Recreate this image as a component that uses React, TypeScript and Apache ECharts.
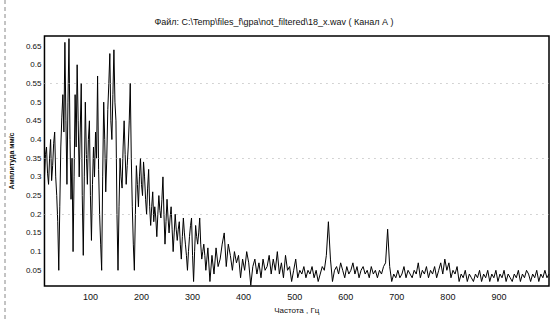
import React, { useEffect, useRef } from "react";
import * as echarts from "echarts";

const titleText = "Файл: C:\\Temp\\files_f\\gpa\\not_filtered\\18_x.wav ( Канал А )";
const xName = "Частота , Гц";
const yName = "Амплитуда мм/с";

// low band: 10..328 Hz, 2 Hz step
const lowBandStart = 10;
const lowBandStep = 2;
const lowBandValues: number[] = [
  0.30, 0.36, 0.38, 0.31, 0.28, 0.35, 0.40, 0.29, 0.33, 0.39, 0.42, 0.30, 0.25, 0.18, 0.05, 0.22, 0.38, 0.46, 0.52, 0.42,
  0.66, 0.45, 0.28, 0.50, 0.67, 0.40, 0.24, 0.35, 0.10, 0.30, 0.52, 0.38, 0.60, 0.45, 0.30, 0.42, 0.55, 0.25, 0.09, 0.30,
  0.50, 0.36, 0.28, 0.40, 0.45, 0.25, 0.13, 0.28, 0.38, 0.30, 0.42, 0.35, 0.57, 0.32, 0.20, 0.12, 0.05, 0.30, 0.50, 0.40,
  0.26, 0.35, 0.48, 0.55, 0.63, 0.45, 0.40, 0.52, 0.64, 0.50, 0.45, 0.20, 0.05, 0.22, 0.35, 0.30, 0.27, 0.38, 0.45, 0.36,
  0.28, 0.33, 0.38, 0.45, 0.55, 0.35, 0.22, 0.12, 0.05, 0.20, 0.33, 0.28, 0.22, 0.30, 0.35, 0.28, 0.25, 0.34, 0.30, 0.24,
  0.20, 0.27, 0.32, 0.22, 0.17, 0.22, 0.26, 0.18, 0.22, 0.19, 0.14, 0.20, 0.25, 0.21, 0.19, 0.24, 0.30, 0.20, 0.12, 0.18,
  0.24, 0.19, 0.15, 0.19, 0.22, 0.16, 0.10, 0.15, 0.20, 0.16, 0.13, 0.16, 0.18, 0.12, 0.08, 0.14, 0.19, 0.15, 0.12, 0.09,
  0.05, 0.10, 0.14, 0.17, 0.19, 0.09, 0.02, 0.10, 0.17, 0.14, 0.12, 0.15, 0.19, 0.12, 0.08, 0.10, 0.12, 0.09, 0.05, 0.08,
];

// high band: 330..998 Hz, 4 Hz step
const highBandStart = 330;
const highBandStep = 4;
const highBandValues: number[] = [
  0.11, 0.02, 0.09, 0.04, 0.11, 0.06, 0.08, 0.12, 0.15, 0.06,
  0.12, 0.09, 0.05, 0.10, 0.07, 0.09, 0.03, 0.08, 0.05, 0.10,
  0.07, 0.01, 0.06, 0.08, 0.04, 0.07, 0.03, 0.08, 0.05, 0.06,
  0.09, 0.04, 0.08, 0.05, 0.10, 0.04, 0.07, 0.03, 0.09, 0.05,
  0.06, 0.02, 0.05, 0.08, 0.03, 0.05, 0.04, 0.06, 0.03, 0.05,
  0.04, 0.06, 0.03, 0.05, 0.02, 0.04, 0.06, 0.05, 0.09, 0.18,
  0.08, 0.02, 0.05, 0.06, 0.04, 0.07, 0.05, 0.03, 0.06, 0.04,
  0.05, 0.07, 0.04, 0.06, 0.03, 0.05, 0.06, 0.04, 0.05, 0.03,
  0.06, 0.04, 0.05, 0.03, 0.05, 0.04, 0.06, 0.07, 0.16, 0.06,
  0.02, 0.04, 0.03, 0.05, 0.03, 0.04, 0.06, 0.03, 0.05, 0.04,
  0.03, 0.05, 0.04, 0.07, 0.03, 0.05, 0.04, 0.06, 0.03, 0.05,
  0.04, 0.06, 0.03, 0.05, 0.07, 0.04, 0.08, 0.05, 0.07, 0.03,
  0.05, 0.04, 0.06, 0.02, 0.04, 0.03, 0.05, 0.02, 0.04, 0.03,
  0.02, 0.04, 0.03, 0.05, 0.02, 0.04, 0.03, 0.05, 0.02, 0.04,
  0.03, 0.05, 0.02, 0.04, 0.03, 0.05, 0.02, 0.04, 0.03, 0.02,
  0.04, 0.03, 0.05, 0.02, 0.04, 0.03, 0.05, 0.04, 0.02, 0.04,
  0.03, 0.05, 0.02, 0.04, 0.03, 0.05, 0.03, 0.04,
];

const xTickValues = [100, 200, 300, 400, 500, 600, 700, 800, 900];
const yTickValues = [0.05, 0.1, 0.15, 0.2, 0.25, 0.3, 0.35, 0.4, 0.45, 0.5, 0.55, 0.6, 0.65];
const dottedLevels = [0.55, 0.355, 0.205];

export default function App() {
  const ref = useRef<HTMLDivElement>(null);
  useEffect(() => {
    document.body.style.margin = "0";
    const chart = echarts.init(ref.current!, null, { renderer: "svg" });
    const data = [
      ...lowBandValues.map((v, i) => [lowBandStart + i * lowBandStep, v]),
      ...highBandValues.map((v, i) => [highBandStart + i * highBandStep, v]),
    ];
    const font = "'Liberation Sans', Arial, sans-serif";
    chart.setOption({
      animation: false,
      backgroundColor: "#ffffff",
      grid: {
        left: 44,
        right: 9,
        top: 36,
        bottom: 34,
        show: true,
        borderColor: "#000",
        borderWidth: 1.5,
      },
      xAxis: {
        type: "value",
        min: 10,
        max: 998,
        name: xName,
        nameLocation: "middle",
        nameGap: 20,
        nameTextStyle: { fontSize: 8, color: "#111", fontFamily: font },
        axisLine: { show: false },
        axisTick: { show: false },
        splitLine: { show: false },
        axisLabel: {
          customValues: xTickValues,
          fontSize: 9,
          color: "#111",
          fontFamily: font,
          margin: 6,
        },
      },
      yAxis: {
        type: "value",
        min: 0.008,
        max: 0.677,
        name: yName,
        nameLocation: "middle",
        nameGap: 21,
        nameTextStyle: { fontSize: 7, color: "#111", fontFamily: font, fontWeight: "bold" },
        axisLine: { show: false },
        axisTick: { show: false },
        splitLine: { show: false },
        axisLabel: {
          customValues: yTickValues,
          formatter: (v: number) => String(+v.toFixed(2)),
          fontSize: 8,
          color: "#111",
          fontFamily: font,
          margin: 3,
        },
      },
      graphic: [
        {
          type: "text",
          x: 274,
          y: 22,
          style: {
            text: titleText,
            fontSize: 9,
            fill: "#111",
            fontFamily: font,
            textAlign: "center",
            textVerticalAlign: "middle",
          },
        },
        {
          type: "line",
          shape: { x1: 5, y1: 0, x2: 5, y2: 320 },
          style: { stroke: "#888", lineWidth: 1, lineDash: [4, 3] },
        },
      ],
      series: [
        {
          type: "line",
          data,
          symbol: "none",
          lineStyle: { color: "#000", width: 1 },
          markLine: {
            silent: true,
            symbol: "none",
            label: { show: false },
            lineStyle: { color: "#aaa", type: [1, 5], width: 1 },
            data: dottedLevels.map((y) => ({ yAxis: y })),
          },
        },
      ],
    });
    return () => chart.dispose();
  }, []);
  return <div ref={ref} style={{ width: 558, height: 320 }} />;
}
